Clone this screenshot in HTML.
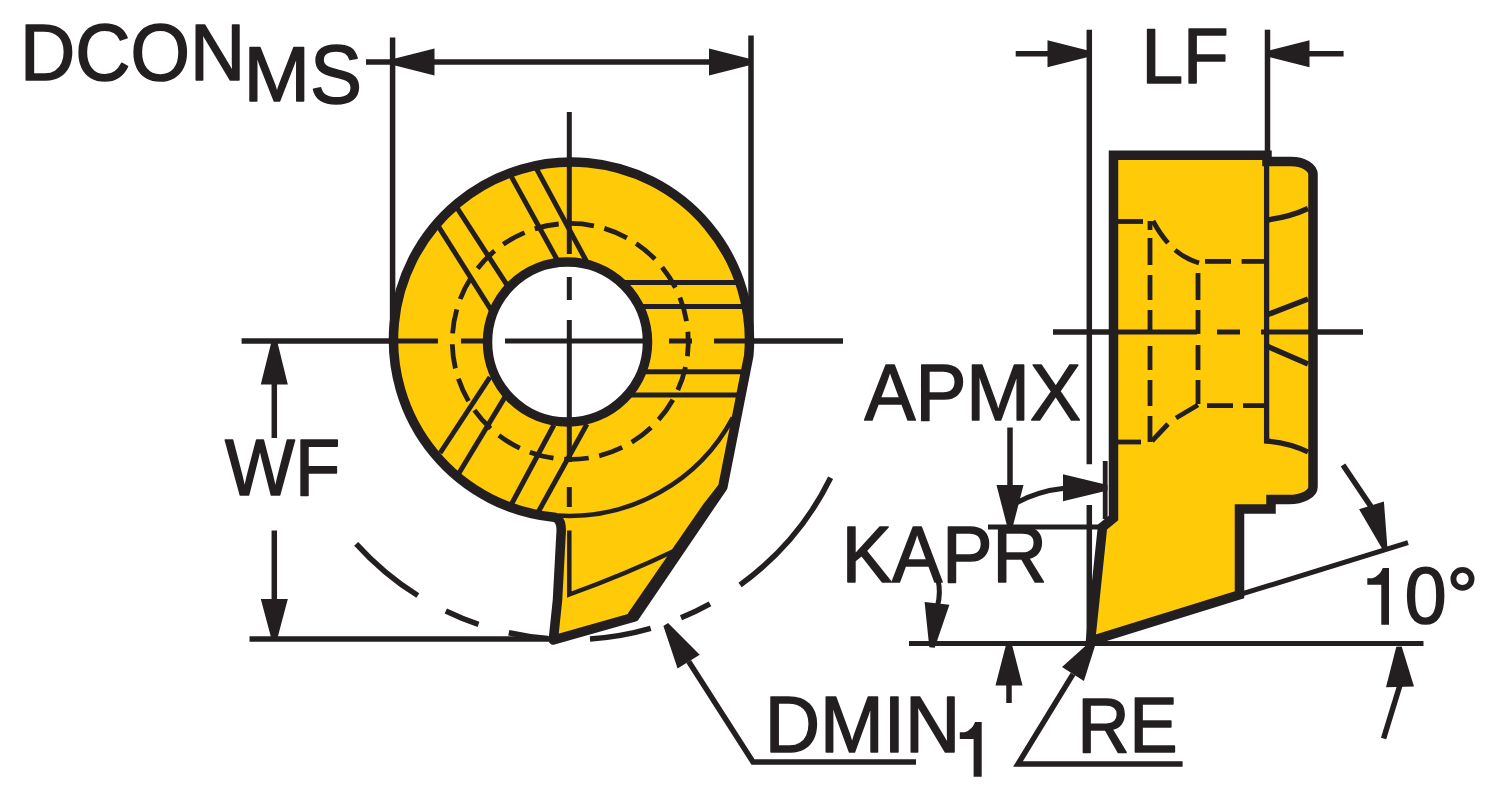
<!DOCTYPE html>
<html><head><meta charset="utf-8"><title>Diagram</title>
<style>html,body{margin:0;padding:0;background:#fff;overflow:hidden}svg{display:block}</style></head>
<body><svg width="1500" height="799" viewBox="0 0 1500 799">
<rect width="1500" height="799" fill="#fff"/>
<path d="M554.1,517.2 A178.0,178.0 0 1 1 748.8,355.5 L722.8,487 L634.5,617 L553.3,640 L557.5,600 L561.2,531 Q561.5,519 554.1,517.2 Z" fill="#ffcb08" stroke="#231f20" stroke-width="9.5" stroke-linejoin="round" stroke-linecap="butt" />
<path d="M732.8,417.6 A185.2,185.2 0 0 1 558.0,515.6" fill="none" stroke="#231f20" stroke-width="4.5" stroke-linejoin="miter" stroke-linecap="butt" />
<line x1="438.2" y1="226.1" x2="492.0" y2="311.3" stroke="#231f20" stroke-width="5.0" stroke-linecap="butt" />
<line x1="457.2" y1="208.2" x2="507.1" y2="285.1" stroke="#231f20" stroke-width="5.0" stroke-linecap="butt" />
<line x1="511.5" y1="176.9" x2="556.9" y2="259.3" stroke="#231f20" stroke-width="5.0" stroke-linecap="butt" />
<line x1="535.5" y1="166.9" x2="587.0" y2="262.3" stroke="#231f20" stroke-width="5.0" stroke-linecap="butt" />
<line x1="490.0" y1="377.1" x2="440.1" y2="453.0" stroke="#231f20" stroke-width="5.0" stroke-linecap="butt" />
<line x1="504.9" y1="397.1" x2="458.3" y2="474.2" stroke="#231f20" stroke-width="5.0" stroke-linecap="butt" />
<line x1="553.9" y1="425.0" x2="511.4" y2="504.3" stroke="#231f20" stroke-width="5.0" stroke-linecap="butt" />
<line x1="587.0" y1="424.0" x2="537.5" y2="513.3" stroke="#231f20" stroke-width="5.0" stroke-linecap="butt" />
<line x1="621.3" y1="282.6" x2="736.5" y2="282.6" stroke="#231f20" stroke-width="5.0" stroke-linecap="butt" />
<line x1="637.8" y1="306.4" x2="743.2" y2="306.4" stroke="#231f20" stroke-width="5.0" stroke-linecap="butt" />
<line x1="639.5" y1="371.8" x2="744.5" y2="371.8" stroke="#231f20" stroke-width="5.0" stroke-linecap="butt" />
<line x1="629.5" y1="395.1" x2="739.5" y2="395.1" stroke="#231f20" stroke-width="5.0" stroke-linecap="butt" />
<path d="M569.3,530.5 L569.3,594.5 Q625,574.5 676,550" fill="none" stroke="#231f20" stroke-width="4.5" stroke-linejoin="miter" stroke-linecap="butt" />
<polygon points="718.3,485.1 703.8,503.4 627.8,613.6 634.5,617.0 722.8,487.0" fill="#231f20"/>
<path d="M588.7,458.0 A118,118 0 0 1 564.2,459.2" fill="none" stroke="#231f20" stroke-width="4.8" stroke-linejoin="miter" stroke-linecap="butt" />
<path d="M553.5,458.2 A118,118 0 0 1 529.8,452.2" fill="none" stroke="#231f20" stroke-width="4.8" stroke-linejoin="miter" stroke-linecap="butt" />
<path d="M519.8,448.1 A118,118 0 0 1 498.9,435.3" fill="none" stroke="#231f20" stroke-width="4.8" stroke-linejoin="miter" stroke-linecap="butt" />
<path d="M490.6,428.4 A118,118 0 0 1 474.4,410.1" fill="none" stroke="#231f20" stroke-width="4.8" stroke-linejoin="miter" stroke-linecap="butt" />
<path d="M468.5,401.1 A118,118 0 0 1 458.4,378.8" fill="none" stroke="#231f20" stroke-width="4.8" stroke-linejoin="miter" stroke-linecap="butt" />
<path d="M455.4,368.4 A118,118 0 0 1 452.3,344.2" fill="none" stroke="#231f20" stroke-width="4.8" stroke-linejoin="miter" stroke-linecap="butt" />
<path d="M452.6,333.4 A118,118 0 0 1 456.8,309.3" fill="none" stroke="#231f20" stroke-width="4.8" stroke-linejoin="miter" stroke-linecap="butt" />
<path d="M460.2,299.0 A118,118 0 0 1 471.3,277.2" fill="none" stroke="#231f20" stroke-width="4.8" stroke-linejoin="miter" stroke-linecap="butt" />
<path d="M477.6,268.4 A118,118 0 0 1 494.6,250.9" fill="none" stroke="#231f20" stroke-width="4.8" stroke-linejoin="miter" stroke-linecap="butt" />
<path d="M503.2,244.3 A118,118 0 0 1 524.6,232.6" fill="none" stroke="#231f20" stroke-width="4.8" stroke-linejoin="miter" stroke-linecap="butt" />
<path d="M534.8,228.9 A118,118 0 0 1 558.7,224.0" fill="none" stroke="#231f20" stroke-width="4.8" stroke-linejoin="miter" stroke-linecap="butt" />
<path d="M569.5,223.4 A118,118 0 0 1 593.9,225.8" fill="none" stroke="#231f20" stroke-width="4.8" stroke-linejoin="miter" stroke-linecap="butt" />
<path d="M604.3,228.4 A118,118 0 0 1 626.9,237.9" fill="none" stroke="#231f20" stroke-width="4.8" stroke-linejoin="miter" stroke-linecap="butt" />
<path d="M636.1,243.5 A118,118 0 0 1 654.9,259.1" fill="none" stroke="#231f20" stroke-width="4.8" stroke-linejoin="miter" stroke-linecap="butt" />
<path d="M662.1,267.2 A118,118 0 0 1 675.4,287.7" fill="none" stroke="#231f20" stroke-width="4.8" stroke-linejoin="miter" stroke-linecap="butt" />
<path d="M679.9,297.6 A118,118 0 0 1 686.5,321.1" fill="none" stroke="#231f20" stroke-width="4.8" stroke-linejoin="miter" stroke-linecap="butt" />
<path d="M687.9,331.8 A118,118 0 0 1 687.4,356.3" fill="none" stroke="#231f20" stroke-width="4.8" stroke-linejoin="miter" stroke-linecap="butt" />
<path d="M685.5,366.9 A118,118 0 0 1 677.8,390.1" fill="none" stroke="#231f20" stroke-width="4.8" stroke-linejoin="miter" stroke-linecap="butt" />
<path d="M672.9,399.7 A118,118 0 0 1 658.6,419.6" fill="none" stroke="#231f20" stroke-width="4.8" stroke-linejoin="miter" stroke-linecap="butt" />
<path d="M651.1,427.4 A118,118 0 0 1 631.7,442.2" fill="none" stroke="#231f20" stroke-width="4.8" stroke-linejoin="miter" stroke-linecap="butt" />
<path d="M622.2,447.4 A118,118 0 0 1 599.2,455.8" fill="none" stroke="#231f20" stroke-width="4.8" stroke-linejoin="miter" stroke-linecap="butt" />
<circle cx="567.5" cy="342" r="80" fill="#fff" stroke="#231f20" stroke-width="9.5"/>
<line x1="241.6" y1="341.0" x2="393.0" y2="341.0" stroke="#231f20" stroke-width="5.5" stroke-linecap="butt" />
<line x1="393.0" y1="341.0" x2="438.0" y2="341.0" stroke="#231f20" stroke-width="5.0" stroke-linecap="butt" />
<line x1="461.0" y1="341.0" x2="483.0" y2="341.0" stroke="#231f20" stroke-width="5.0" stroke-linecap="butt" />
<line x1="505.0" y1="341.0" x2="648.0" y2="341.0" stroke="#231f20" stroke-width="5.0" stroke-linecap="butt" />
<line x1="669.0" y1="341.0" x2="692.0" y2="341.0" stroke="#231f20" stroke-width="5.0" stroke-linecap="butt" />
<line x1="714.0" y1="341.0" x2="753.0" y2="341.0" stroke="#231f20" stroke-width="5.0" stroke-linecap="butt" />
<line x1="753.0" y1="341.0" x2="843.0" y2="341.0" stroke="#231f20" stroke-width="5.5" stroke-linecap="butt" />
<line x1="569.3" y1="112.0" x2="569.3" y2="254.0" stroke="#231f20" stroke-width="5.0" stroke-linecap="butt" />
<line x1="569.3" y1="277.0" x2="569.3" y2="300.0" stroke="#231f20" stroke-width="5.0" stroke-linecap="butt" />
<line x1="569.3" y1="320.0" x2="569.3" y2="462.0" stroke="#231f20" stroke-width="5.0" stroke-linecap="butt" />
<line x1="569.3" y1="487.0" x2="569.3" y2="507.0" stroke="#231f20" stroke-width="5.0" stroke-linecap="butt" />
<line x1="392.6" y1="37.6" x2="392.6" y2="341.0" stroke="#231f20" stroke-width="5.5" stroke-linecap="butt" />
<line x1="751.0" y1="35.6" x2="751.0" y2="341.0" stroke="#231f20" stroke-width="5.5" stroke-linecap="butt" />
<line x1="366.0" y1="62.0" x2="751.0" y2="62.0" stroke="#231f20" stroke-width="5.5" stroke-linecap="butt" />
<polygon points="392.0,59.2 434.5,48.5 434.5,75.5 392.0,64.8" fill="#231f20"/>
<polygon points="751.5,64.8 709.0,75.5 709.0,48.5 751.5,59.2" fill="#231f20"/>
<line x1="249.5" y1="639.0" x2="556.0" y2="639.0" stroke="#231f20" stroke-width="5.5" stroke-linecap="butt" />
<line x1="274.3" y1="380.0" x2="274.3" y2="438.0" stroke="#231f20" stroke-width="5.5" stroke-linecap="butt" />
<polygon points="277.1,341.0 287.8,384.5 260.8,384.5 271.6,341.0" fill="#231f20"/>
<line x1="274.3" y1="530.5" x2="274.3" y2="605.0" stroke="#231f20" stroke-width="5.5" stroke-linecap="butt" />
<polygon points="271.6,639.5 260.8,599.0 287.8,599.0 277.1,639.5" fill="#231f20"/>
<path d="M356.2,543.8 A289,289 0 0 0 417.8,595.5" fill="none" stroke="#231f20" stroke-width="5.5" stroke-linejoin="miter" stroke-linecap="butt" />
<path d="M445.8,610.9 A289,289 0 0 0 478.5,624.3" fill="none" stroke="#231f20" stroke-width="5.5" stroke-linejoin="miter" stroke-linecap="butt" />
<path d="M508.8,632.7 A289,289 0 0 0 548.0,638.6" fill="none" stroke="#231f20" stroke-width="5.5" stroke-linejoin="miter" stroke-linecap="butt" />
<path d="M590.0,638.9 A289,289 0 0 0 650.7,628.3" fill="none" stroke="#231f20" stroke-width="5.5" stroke-linejoin="miter" stroke-linecap="butt" />
<path d="M681.0,617.8 A289,289 0 0 0 710.0,603.9" fill="none" stroke="#231f20" stroke-width="5.5" stroke-linejoin="miter" stroke-linecap="butt" />
<path d="M740.1,584.9 A289,289 0 0 0 830.6,477.8" fill="none" stroke="#231f20" stroke-width="5.5" stroke-linejoin="miter" stroke-linecap="butt" />
<polygon points="668.1,623.1 699.7,654.7 677.6,668.4 663.4,626.0" fill="#231f20"/>
<path d="M688.7,661.5 L753,762 L916,762" fill="none" stroke="#231f20" stroke-width="5.5" stroke-linejoin="miter" stroke-linecap="butt" />
<path d="M1113.5,155.2 L1267,155.2 L1267,161.5 L1291,161.5 A22,13 0 0 1 1313,174.5 L1313,487 A24,12.5 0 0 1 1289,499.5 L1271,499.5 L1271,509 L1239.5,509 L1239.5,594.7 L1090.5,641 L1102.5,527 L1113.5,518 Z" fill="#ffcb08" stroke="#231f20" stroke-width="9.5" stroke-linejoin="miter" stroke-linecap="butt" />
<path d="M1266.6,160 L1266.6,441 Q1290,443 1308,452" fill="none" stroke="#231f20" stroke-width="5.3" stroke-linejoin="miter" stroke-linecap="butt" />
<path d="M1266.6,220 Q1290,217 1308,208.5" fill="none" stroke="#231f20" stroke-width="5.3" stroke-linejoin="miter" stroke-linecap="butt" />
<line x1="1266.6" y1="315.0" x2="1308.0" y2="299.0" stroke="#231f20" stroke-width="5.5" stroke-linecap="butt" />
<line x1="1266.6" y1="346.0" x2="1308.0" y2="364.0" stroke="#231f20" stroke-width="5.5" stroke-linecap="butt" />
<line x1="1118.0" y1="221.5" x2="1143.0" y2="221.5" stroke="#231f20" stroke-width="4.8" stroke-linecap="butt" />
<line x1="1118.0" y1="442.0" x2="1141.0" y2="442.0" stroke="#231f20" stroke-width="4.8" stroke-linecap="butt" />
<line x1="1150.0" y1="221.0" x2="1150.0" y2="230.0" stroke="#231f20" stroke-width="4.8" stroke-linecap="butt" />
<line x1="1150.0" y1="238.0" x2="1150.0" y2="265.0" stroke="#231f20" stroke-width="4.8" stroke-linecap="butt" />
<line x1="1150.0" y1="275.0" x2="1150.0" y2="300.0" stroke="#231f20" stroke-width="4.8" stroke-linecap="butt" />
<line x1="1150.0" y1="310.0" x2="1150.0" y2="333.0" stroke="#231f20" stroke-width="4.8" stroke-linecap="butt" />
<line x1="1150.0" y1="346.0" x2="1150.0" y2="370.0" stroke="#231f20" stroke-width="4.8" stroke-linecap="butt" />
<line x1="1150.0" y1="380.0" x2="1150.0" y2="406.0" stroke="#231f20" stroke-width="4.8" stroke-linecap="butt" />
<line x1="1150.0" y1="416.0" x2="1150.0" y2="442.0" stroke="#231f20" stroke-width="4.8" stroke-linecap="butt" />
<line x1="1198.0" y1="273.0" x2="1198.0" y2="300.0" stroke="#231f20" stroke-width="4.8" stroke-linecap="butt" />
<line x1="1198.0" y1="310.0" x2="1198.0" y2="334.0" stroke="#231f20" stroke-width="4.8" stroke-linecap="butt" />
<line x1="1198.0" y1="345.0" x2="1198.0" y2="370.0" stroke="#231f20" stroke-width="4.8" stroke-linecap="butt" />
<line x1="1198.0" y1="380.0" x2="1198.0" y2="404.0" stroke="#231f20" stroke-width="4.8" stroke-linecap="butt" />
<line x1="1205.0" y1="261.4" x2="1231.0" y2="261.4" stroke="#231f20" stroke-width="4.8" stroke-linecap="butt" />
<line x1="1241.6" y1="261.4" x2="1264.0" y2="261.4" stroke="#231f20" stroke-width="4.8" stroke-linecap="butt" />
<line x1="1207.0" y1="405.6" x2="1233.0" y2="405.6" stroke="#231f20" stroke-width="4.8" stroke-linecap="butt" />
<line x1="1243.0" y1="405.6" x2="1264.0" y2="405.6" stroke="#231f20" stroke-width="4.8" stroke-linecap="butt" />
<path d="M1153,221 Q1160,234 1168,243" fill="none" stroke="#231f20" stroke-width="4.8" stroke-linejoin="miter" stroke-linecap="butt" />
<path d="M1175,250 Q1186,259 1199,263" fill="none" stroke="#231f20" stroke-width="4.8" stroke-linejoin="miter" stroke-linecap="butt" />
<path d="M1198,405 L1176,418" fill="none" stroke="#231f20" stroke-width="4.8" stroke-linejoin="miter" stroke-linecap="butt" />
<path d="M1168,424 L1152,441" fill="none" stroke="#231f20" stroke-width="4.8" stroke-linejoin="miter" stroke-linecap="butt" />
<line x1="1053.0" y1="332.0" x2="1109.0" y2="332.0" stroke="#231f20" stroke-width="5.5" stroke-linecap="butt" />
<line x1="1118.0" y1="332.0" x2="1197.0" y2="332.0" stroke="#231f20" stroke-width="5.0" stroke-linecap="butt" />
<line x1="1217.0" y1="332.0" x2="1240.0" y2="332.0" stroke="#231f20" stroke-width="5.0" stroke-linecap="butt" />
<line x1="1261.0" y1="332.0" x2="1318.0" y2="332.0" stroke="#231f20" stroke-width="5.0" stroke-linecap="butt" />
<line x1="1318.0" y1="332.0" x2="1363.0" y2="332.0" stroke="#231f20" stroke-width="5.5" stroke-linecap="butt" />
<line x1="1089.3" y1="29.7" x2="1089.3" y2="464.3" stroke="#231f20" stroke-width="5.5" stroke-linecap="butt" />
<line x1="1089.3" y1="505.0" x2="1089.3" y2="640.0" stroke="#231f20" stroke-width="5.5" stroke-linecap="butt" />
<line x1="1267.5" y1="29.7" x2="1267.5" y2="155.0" stroke="#231f20" stroke-width="5.5" stroke-linecap="butt" />
<line x1="1015.7" y1="53.7" x2="1050.0" y2="53.7" stroke="#231f20" stroke-width="5.5" stroke-linecap="butt" />
<polygon points="1090.0,56.5 1047.5,67.2 1047.5,40.2 1090.0,51.0" fill="#231f20"/>
<line x1="1343.6" y1="53.7" x2="1305.0" y2="53.7" stroke="#231f20" stroke-width="5.5" stroke-linecap="butt" />
<polygon points="1267.0,51.0 1309.5,40.2 1309.5,67.2 1267.0,56.5" fill="#231f20"/>
<line x1="1105.2" y1="461.0" x2="1105.2" y2="519.0" stroke="#231f20" stroke-width="4.8" stroke-linecap="butt" />
<line x1="1010.0" y1="427.5" x2="1010.0" y2="490.0" stroke="#231f20" stroke-width="5.5" stroke-linecap="butt" />
<polygon points="1007.2,526.5 996.5,485.0 1023.5,485.0 1012.8,526.5" fill="#231f20"/>
<line x1="988.0" y1="527.0" x2="1103.0" y2="527.0" stroke="#231f20" stroke-width="5.0" stroke-linecap="butt" />
<path d="M1016,503 Q1038,491 1066,488" fill="none" stroke="#231f20" stroke-width="5.0" stroke-linejoin="miter" stroke-linecap="butt" />
<polygon points="1107.5,490.6 1063.0,501.3 1063.0,474.3 1107.5,485.1" fill="#231f20"/>
<path d="M938,580 Q941,592 937.5,606" fill="none" stroke="#231f20" stroke-width="5.0" stroke-linejoin="miter" stroke-linecap="butt" />
<polygon points="929.3,647.2 924.6,601.9 949.4,604.7 934.7,647.8" fill="#231f20"/>
<line x1="909.0" y1="643.5" x2="1423.5" y2="643.5" stroke="#231f20" stroke-width="5.2" stroke-linecap="butt" />
<line x1="1009.0" y1="703.0" x2="1009.0" y2="680.0" stroke="#231f20" stroke-width="5.5" stroke-linecap="butt" />
<polygon points="1011.8,644.0 1022.5,685.5 995.5,685.5 1006.2,644.0" fill="#231f20"/>
<polygon points="1095.6,644.1 1083.9,681.1 1062.0,667.1 1091.0,641.1" fill="#231f20"/>
<path d="M1073.0,674.1 L1018,764 L1182.6,764" fill="none" stroke="#231f20" stroke-width="5.5" stroke-linejoin="miter" stroke-linecap="butt" />
<line x1="1239.5" y1="594.7" x2="1408.0" y2="542.6" stroke="#231f20" stroke-width="5.0" stroke-linecap="butt" />
<polygon points="1382.2,548.8 1359.1,509.3 1383.9,501.6 1387.4,547.2" fill="#231f20"/>
<line x1="1343.0" y1="465.0" x2="1371.5" y2="507.4" stroke="#231f20" stroke-width="5.5" stroke-linecap="butt" />
<polygon points="1401.7,646.5 1414.0,686.6 1386.0,687.3 1396.3,646.7" fill="#231f20"/>
<line x1="1383.6" y1="738.5" x2="1400.0" y2="685.0" stroke="#231f20" stroke-width="5.5" stroke-linecap="butt" />
<text transform="translate(20.08,79.90) scale(0.7644,0.8043)" font-family="Liberation Sans, sans-serif" font-size="100" fill="#231f20" stroke="#231f20" stroke-width="1.6" vector-effect="non-scaling-stroke" stroke-linejoin="round">DCON</text>
<text transform="translate(243.60,101.20) scale(0.8000,0.7855)" font-family="Liberation Sans, sans-serif" font-size="100" fill="#231f20" stroke="#231f20" stroke-width="1.6" vector-effect="non-scaling-stroke" stroke-linejoin="round">M</text>
<text transform="translate(309.89,102.76) scale(0.7791,0.8367)" font-family="Liberation Sans, sans-serif" font-size="100" fill="#231f20" stroke="#231f20" stroke-width="1.6" vector-effect="non-scaling-stroke" stroke-linejoin="round">S</text>
<text transform="translate(225.03,494.70) scale(0.7404,0.7884)" font-family="Liberation Sans, sans-serif" font-size="100" fill="#231f20" stroke="#231f20" stroke-width="1.6" vector-effect="non-scaling-stroke" stroke-linejoin="round">WF</text>
<text transform="translate(1141.42,83.00) scale(0.7474,0.7855)" font-family="Liberation Sans, sans-serif" font-size="100" fill="#231f20" stroke="#231f20" stroke-width="1.6" vector-effect="non-scaling-stroke" stroke-linejoin="round">LF</text>
<text transform="translate(864.42,420.20) scale(0.7643,0.8029)" font-family="Liberation Sans, sans-serif" font-size="100" fill="#231f20" stroke="#231f20" stroke-width="1.6" vector-effect="non-scaling-stroke" stroke-linejoin="round">APMX</text>
<text transform="translate(841.78,582.20) scale(0.7530,0.8029)" font-family="Liberation Sans, sans-serif" font-size="100" fill="#231f20" stroke="#231f20" stroke-width="1.6" vector-effect="non-scaling-stroke" stroke-linejoin="round">KAPR</text>
<text transform="translate(764.67,752.20) scale(0.7658,0.7942)" font-family="Liberation Sans, sans-serif" font-size="100" fill="#231f20" stroke="#231f20" stroke-width="1.6" vector-effect="non-scaling-stroke" stroke-linejoin="round">DMIN</text>
<path d="M981.7,721.9 L981.7,776.7 L973.6,776.7 L973.6,739 L959.8,739 L959.8,732.2 L964.8,732.2 Q972.1,729.7 975.1,721.9 Z" fill="#231f20"/>
<text transform="translate(1077.45,751.60) scale(0.7194,0.7797)" font-family="Liberation Sans, sans-serif" font-size="100" fill="#231f20" stroke="#231f20" stroke-width="1.6" vector-effect="non-scaling-stroke" stroke-linejoin="round">RE</text>
<path d="M1389,567.9 L1389,624.7 L1381.3,624.7 L1381.3,584.8 L1367.3,584.8 L1367.3,578.2 L1372.3,578.2 Q1379.8,575.7 1382.8,567.9 Z" fill="#231f20"/>
<text transform="translate(1404.79,623.41) scale(0.7518,0.7901)" font-family="Liberation Sans, sans-serif" font-size="100" fill="#231f20" stroke="#231f20" stroke-width="1.6" vector-effect="non-scaling-stroke" stroke-linejoin="round">0</text>
<text transform="translate(1446.50,624.10) scale(0.8000,0.8000)" font-family="Liberation Sans, sans-serif" font-size="100" fill="#231f20" stroke="#231f20" stroke-width="1.6" vector-effect="non-scaling-stroke" stroke-linejoin="round">°</text>
</svg></body></html>
